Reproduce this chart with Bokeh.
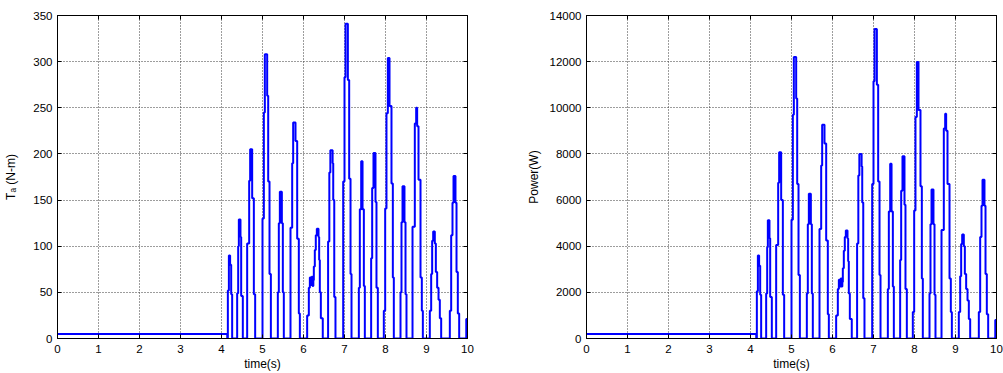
from bokeh.plotting import figure
from bokeh.layouts import row
from bokeh.models import LinearAxis, Range1d, FixedTicker
from bokeh.embed import file_html
from bokeh.resources import INLINE

# Simulation time base (s): each entry starts a new held level (zero-order hold)
time_s = [
    0.0, 4.14,
    4.155, 4.18, 4.21, 4.236, 4.26,
    4.382, 4.407, 4.423, 4.463, 4.48, 4.52,
    4.626, 4.675, 4.699, 4.748, 4.789, 4.821,
    5.0, 5.033, 5.057, 5.114, 5.139, 5.171, 5.204,
    5.374, 5.398, 5.423, 5.472, 5.496, 5.52,
    5.683, 5.724, 5.748, 5.805, 5.846, 5.886, 5.911,
    6.089, 6.13, 6.155, 6.18, 6.2, 6.22, 6.24, 6.252, 6.276, 6.30, 6.325, 6.366, 6.382, 6.398, 6.423, 6.47,
    6.60, 6.63, 6.655, 6.71, 6.725, 6.75, 6.78,
    6.968, 7.0, 7.025, 7.082, 7.114, 7.147, 7.171,
    7.35, 7.374, 7.407, 7.44, 7.472, 7.496,
    7.65, 7.675, 7.707, 7.756, 7.78, 7.813,
    7.959, 7.992, 8.024, 8.057, 8.098, 8.146, 8.179, 8.203,
    8.366, 8.39, 8.415, 8.463, 8.488, 8.512,
    8.659, 8.715, 8.748, 8.772, 8.805, 8.854, 8.886, 8.911,
    9.081, 9.114, 9.138, 9.163, 9.203, 9.228, 9.26, 9.293, 9.325, 9.358,
    9.569, 9.602, 9.634, 9.659, 9.707, 9.732, 9.764, 9.797,
    9.97, 10.0,
]

# Torque T_a (N-m), level held from the matching time
torque_nm = [
    5, 0,
    52, 90, 80, 48, 0,
    49, 100, 129, 110, 46, 0,
    103, 171, 205, 152, 48, 0,
    130, 245, 308, 263, 170, 70, 0,
    50, 125, 159, 125, 50, 0,
    120, 190, 234, 214, 108, 27, 0,
    25, 55, 66, 58, 67, 57, 63, 78, 96, 112, 119, 110, 85, 50, 22, 0,
    105, 180, 204, 190, 150, 45, 0,
    170, 283, 341, 280, 173, 70, 0,
    55, 140, 192, 140, 57, 0,
    87, 163, 201, 148, 55, 0,
    30, 141, 244, 304, 252, 168, 66, 0,
    50, 126, 165, 126, 48, 0,
    121, 233, 250, 230, 172, 66, 30, 0,
    30, 70, 106, 116, 103, 72, 55, 42, 22, 0,
    30, 112, 147, 176, 147, 72, 27, 0,
    21, 21,
]

# Power (W), level held from the matching time
power_w = [
    200, 0,
    2050, 3600, 3150, 1900, 0,
    1950, 3950, 5130, 4350, 1800, 0,
    4050, 6750, 8070, 6000, 1900, 0,
    5150, 9700, 12200, 10400, 6700, 2750, 0,
    1950, 4950, 6270, 4950, 1950, 0,
    4750, 7500, 9260, 8450, 4250, 1050, 0,
    1000, 2150, 2550, 2250, 2600, 2250, 2450, 3050, 3800, 4400, 4680, 4330, 3350, 1950, 850, 0,
    4120, 7060, 8000, 7450, 5900, 1750, 0,
    6700, 11150, 13420, 11000, 6800, 2750, 0,
    2150, 5500, 7570, 5500, 2250, 0,
    3400, 6400, 7900, 5800, 2150, 0,
    1150, 5550, 9600, 11980, 9900, 6600, 2600, 0,
    1950, 4950, 6460, 4950, 1900, 0,
    4700, 9100, 9740, 9000, 6700, 2600, 1150, 0,
    1150, 2700, 4100, 4510, 4000, 2800, 2150, 1650, 850, 0,
    1150, 4400, 5750, 6880, 5750, 2800, 1050, 0,
    800, 800,
]

x_ticks = [0, 1, 2, 3, 4, 5, 6, 7, 8, 9, 10]
torque_ticks = [0, 50, 100, 150, 200, 250, 300, 350]
power_ticks = [0, 2000, 4000, 6000, 8000, 10000, 12000, 14000]

FONT = "Liberation Sans"


def style_axis(ax, ticks, show_labels=True):
    ax.ticker = FixedTicker(ticks=ticks)
    ax.axis_line_color = "black"
    ax.axis_line_width = 1
    ax.major_tick_line_color = "black"
    ax.major_tick_in = 4
    ax.major_tick_out = 0
    ax.minor_tick_line_color = None
    ax.major_label_text_font = FONT
    ax.major_label_text_font_size = "11.5px"
    if show_labels:
        ax.major_label_text_color = "black"
    else:
        # box-style axis: ticks only, no numbers
        ax.major_label_text_color = None
        ax.major_label_standoff = 0
    ax.axis_label_text_font = FONT
    ax.axis_label_text_font_size = "12px"
    ax.axis_label_text_font_style = "normal"
    ax.axis_label_text_color = "black"


def make_panel(values, y_max, y_ticks, y_label, width, left, right, label_gap):
    p = figure(width=width, height=373,
               x_range=Range1d(0, 10), y_range=Range1d(0, y_max),
               output_backend="svg", toolbar_location=None,
               min_border_left=left, min_border_right=right,
               min_border_top=15, min_border_bottom=35,
               background_fill_color="white", border_fill_color="white")
    p.step(time_s, values, mode="after", line_color="#0000ff", line_width=2)

    xa = p.xaxis[0]
    style_axis(xa, x_ticks)
    xa.axis_label = "time(s)"
    xa.major_label_standoff = 6
    xa.axis_label_standoff = 1

    ya = p.yaxis[0]
    style_axis(ya, y_ticks)
    ya.axis_label = y_label
    ya.major_label_standoff = 5
    ya.axis_label_standoff = label_gap

    top = LinearAxis()
    style_axis(top, x_ticks, show_labels=False)
    p.add_layout(top, "above")
    rgt = LinearAxis()
    style_axis(rgt, y_ticks, show_labels=False)
    p.add_layout(rgt, "right")

    for g, t in ((p.xgrid[0], x_ticks), (p.ygrid[0], y_ticks)):
        g.ticker = FixedTicker(ticks=t)
        g.grid_line_color = "#3a3a3a"
        g.grid_line_dash = "1 2"
        g.grid_line_width = 1

    p.outline_line_color = "black"
    p.outline_line_width = 1
    return p


p1 = make_panel(torque_nm, 350, torque_ticks, "T\u2090 (N-m)", 500, 57, 33, 12)
p2 = make_panel(power_w, 14000, power_ticks, "Power(W)", 503, 86, 7, 6)

layout = row(p1, p2)
open("out.html", "w").write(file_html(layout, INLINE))
